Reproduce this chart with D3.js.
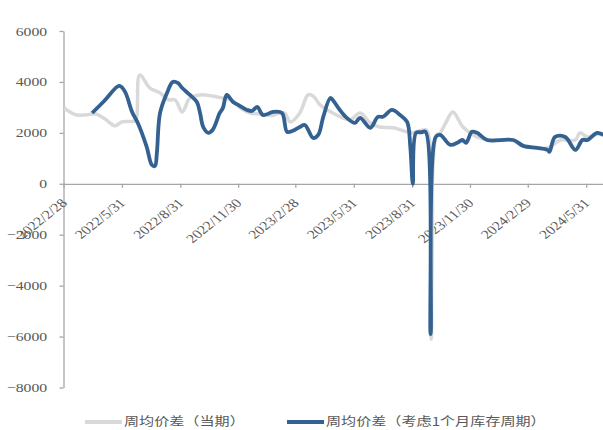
<!DOCTYPE html>
<html>
<head>
<meta charset="utf-8">
<script src="https://cdn.jsdelivr.net/npm/d3@7"></script>
<style>
  body { margin: 0; background: #fff; }
  svg { display: block; }
</style>
</head>
<body>
<div id="chart"></div>
<script>
// weekly price spread
var grayDates = ["2022-03-01","2022-03-18","2022-04-03","2022-04-19","2022-05-04","2022-05-20","2022-05-31",
  "2022-06-17","2022-06-22","2022-06-28","2022-07-14","2022-07-30","2022-08-12","2022-08-23","2022-09-03",
  "2022-09-15","2022-10-01","2022-10-20","2022-11-05","2022-11-20","2022-12-03","2022-12-19","2023-01-07",
  "2023-01-22","2023-02-04","2023-02-12","2023-02-20","2023-03-07","2023-03-20","2023-03-28","2023-04-08",
  "2023-04-28","2023-05-25","2023-06-10","2023-06-26","2023-07-11","2023-08-01","2023-08-23","2023-08-31",
  "2023-09-13","2023-09-23","2023-09-30","2023-10-08","2023-10-14","2023-10-23","2023-11-03","2023-11-19",
  "2023-12-05","2023-12-16","2023-12-27","2024-02-06","2024-02-17","2024-03-09","2024-03-31","2024-04-09",
  "2024-04-20","2024-05-14","2024-05-21","2024-06-02","2024-06-17","2024-06-27"];
var grayValues = [2980,2720,2700,2750,2550,2280,2430,
  2450,2500,4270,3760,3570,3300,3290,2820,
  3370,3490,3450,3370,3290,2980,2780,2740,
  2680,2780,2760,2430,2780,3490,3450,3100,
  2780,2510,2780,2390,2230,2200,2040,2000,
  2080,2100,-6100,1900,2000,2400,2820,2230,
  1920,1800,1720,1720,1530,1410,1410,1530,
  1720,1720,2000,1840,1950,1900];

var blueDates = ["2022-04-14","2022-05-03","2022-05-23","2022-05-28","2022-06-05","2022-06-16","2022-06-25",
  "2022-07-09","2022-07-17","2022-07-22","2022-07-25","2022-07-30","2022-08-10","2022-08-19","2022-08-27",
  "2022-09-03","2022-09-15","2022-09-26","2022-10-01","2022-10-06","2022-10-14","2022-10-21","2022-11-01",
  "2022-11-06","2022-11-12","2022-11-22","2022-11-30","2022-12-14","2022-12-22","2022-12-30","2023-01-08",
  "2023-01-24","2023-02-07","2023-02-15","2023-02-24","2023-03-07","2023-03-15","2023-03-28","2023-04-05",
  "2023-04-13","2023-04-24","2023-04-28","2023-05-09","2023-05-20","2023-06-02","2023-06-10","2023-06-26",
  "2023-07-08","2023-07-16","2023-07-30","2023-08-12","2023-08-23","2023-08-28","2023-09-01","2023-09-06",
  "2023-09-14","2023-09-21","2023-09-29","2023-10-07","2023-10-14","2023-10-30","2023-11-10","2023-11-18",
  "2023-11-24","2023-12-03","2023-12-11","2023-12-27","2024-02-06","2024-02-22","2024-03-15","2024-03-31",
  "2024-04-03","2024-04-12","2024-04-28","2024-05-14","2024-05-25","2024-06-02","2024-06-17","2024-06-27"];
var blueValues = [2780,3250,3800,3840,3610,2820,2390,
  1450,745,700,1210,2780,3570,4000,3960,
  3760,3490,3210,2780,2230,2000,2120,2780,
  2980,3490,3210,3100,2900,2860,3020,2700,
  2820,2780,2040,2080,2230,2310,1800,1920,
  2630,3370,3290,2900,2590,2390,2590,2200,
  2630,2630,2900,2700,2430,1450,0,2000,
  2020,2040,-5900,1840,1920,1530,1610,1720,
  1610,2040,2000,1720,1720,1490,1410,1330,
  1250,1840,1840,1330,1720,1720,2000,1920];

var tickDates = ["2022-02-28","2022-05-31","2022-08-31","2022-11-30","2023-02-28","2023-05-31",
  "2023-08-31","2023-11-30","2024-02-29","2024-05-31"];
var tickLabels = ["2022/2/28","2022/5/31","2022/8/31","2022/11/30","2023/2/28","2023/5/31",
  "2023/8/31","2023/11/30","2024/2/29","2024/5/31"];
var yTicks = [6000,4000,2000,0,-2000,-4000,-6000,-8000];
var seriesNames = ["周均价差（当期）","周均价差（考虑1个月库存周期）"];

var width = 603, height = 430;
var stretch = 1.26; // the source picture is a bit wider than tall
var serif = "'Times New Roman', 'Liberation Serif', 'DejaVu Serif', serif";
var parse = d3.utcParse("%Y-%m-%d");

var svg = d3.select("#chart").append("svg")
  .attr("width", width)
  .attr("height", height);

var x = d3.scaleUtc()
  .domain([parse("2022-02-28"), parse("2024-06-28")])
  .range([63.5, 604]);

var y = d3.scaleLinear()
  .domain([-8000, 6000])
  .range([387.5, 31]);

var axisColor = "#a6a6a6", textColor = "#595959";

// y axis
var yAxis = svg.append("g")
  .attr("transform", "translate(63.5,0)")
  .call(d3.axisLeft(y).tickValues(yTicks).tickFormat(d3.format("d"))
    .tickSize(4).tickSizeOuter(0).tickPadding(9))
  .attr("font-family", serif)
  .attr("font-size", 12.5);
yAxis.selectAll("path, line").attr("stroke", axisColor).attr("stroke-width", 1.3);
yAxis.selectAll("text")
  .attr("fill", textColor)
  .attr("transform", "scale(" + stretch + ",1)");

// x axis sits on zero
var xAxis = svg.append("g")
  .attr("transform", "translate(0," + y(0) + ")")
  .call(d3.axisBottom(x)
    .tickValues(tickDates.map(parse))
    .tickSize(4).tickSizeOuter(0)
    .tickFormat(function(d, i) { return tickLabels[i]; }))
  .attr("font-family", serif)
  .attr("font-size", 12.5);
xAxis.selectAll("path, line").attr("stroke", axisColor).attr("stroke-width", 1.3);
xAxis.selectAll("text")
  .attr("x", 0).attr("y", 0).attr("dy", 0)
  .attr("text-anchor", "end")
  .attr("fill", textColor)
  .attr("transform", "translate(4,20) scale(" + stretch + ",1) rotate(-45)");

// lines
var line = d3.line()
  .x(function(d) { return x(d.date); })
  .y(function(d) { return y(d.value); })
  .curve(d3.curveCatmullRom.alpha(0.5));

function rows(dates, values) {
  return dates.map(function(d, i) { return { date: parse(d), value: values[i] }; });
}

svg.append("path")
  .datum(rows(grayDates, grayValues))
  .attr("fill", "none")
  .attr("stroke", "#d9d9d9")
  .attr("stroke-width", 3.5)
  .attr("stroke-linejoin", "round")
  .attr("d", line);

svg.append("path")
  .datum(rows(blueDates, blueValues))
  .attr("fill", "none")
  .attr("stroke", "#336191")
  .attr("stroke-width", 3.8)
  .attr("stroke-linejoin", "round")
  .attr("d", line);

// legend
var legend = [
  { name: seriesNames[0], color: "#d9d9d9", x: 85 },
  { name: seriesNames[1], color: "#336191", x: 287 }
];
var lg = svg.append("g").selectAll("g")
  .data(legend)
  .enter().append("g")
  .attr("transform", function(d) { return "translate(" + d.x + ",422)"; });
lg.append("line")
  .attr("x1", 0).attr("x2", 37)
  .attr("stroke", function(d) { return d.color; })
  .attr("stroke-width", 4);
lg.append("text")
  .attr("transform", "translate(39,4) scale(" + stretch + ",1)")
  .attr("fill", textColor)
  .attr("font-family", "'Noto Sans CJK SC', sans-serif")
  .attr("font-size", 12)
  .text(function(d) { return d.name; });
</script>
</body>
</html>
